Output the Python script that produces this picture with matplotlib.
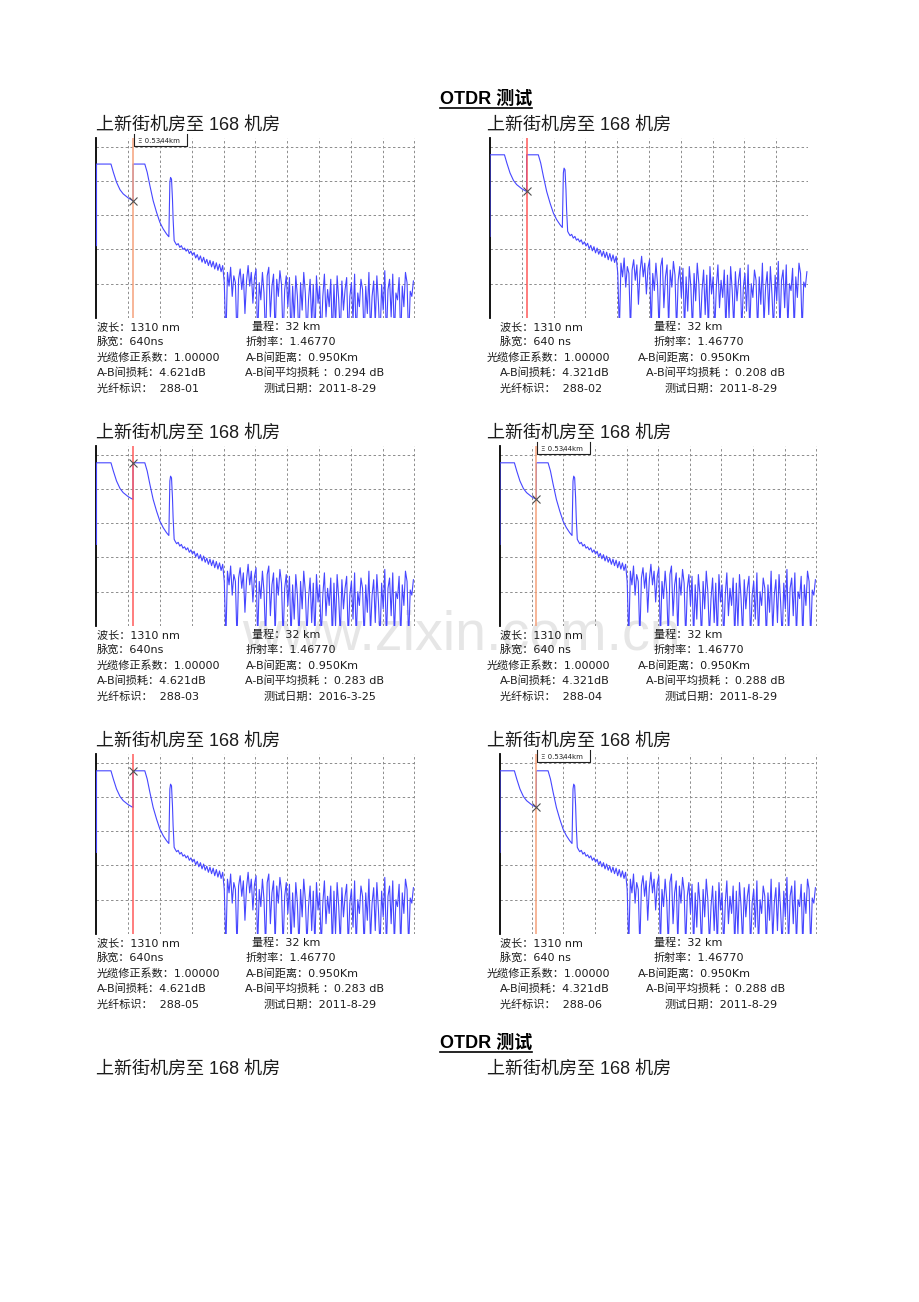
import numpy as np
import matplotlib
matplotlib.use("Agg")
import matplotlib.pyplot as plt
from matplotlib.transforms import blended_transform_factory

plt.rcParams["font.family"] = ["Liberation Sans", "Noto Sans CJK SC"]

# ---------------- data ----------------
heading = "OTDR 测试"
route = "上新街机房至 168 机房"

# launch pulse, first connector and reflective event
# x in grid divisions, y in level divisions (bottom of screen = 0)
launch_x = [0.0, 0.0, 0.455, 0.53, 0.63, 0.74, 0.84, 1.0, 1.15, 1.15, 1.52,
            1.595, 1.68, 1.783, 1.89, 1.994, 2.097, 2.204, 2.276, 2.308, 2.33,
            2.36, 2.39, 2.41, 2.443]
launch_y = [2.38, 4.76, 4.76, 4.52, 4.23, 4.01, 3.89, 3.77, 3.69, 4.76, 4.76,
            4.52, 4.13, 3.69, 3.35, 3.06, 2.87, 2.72, 2.64, 4.23, 4.37,
            4.32, 3.74, 3.16, 2.53]

# backscatter + noise floor, sampled every 0.05 div from 2.47
tail_start = 2.47
tail_step = 0.05
tail_y = [
    2.48, 2.40, 2.44, 2.33, 2.38, 2.27, 2.31, 2.22, 2.28, 2.15, 2.22, 2.10,
    2.18, 2.02, 2.12, 1.96, 2.08, 1.90, 2.04, 1.86, 1.98, 1.80, 1.95, 1.76,
    1.92, 1.70, 1.88, 1.66, 1.84, 1.62, 1.80,
    1.3, -0.4, 1.6, 1.2, 1.75, 0.9, 1.5, 1.3, -0.4, 1.4, 1.7, 1.1, 1.55, 0.4,
    1.35, 1.8, 1.2, 1.6, 0.7, 1.45,
    1.7, -0.4, 1.3, 0.8, 1.6, 1.0, -0.4, 1.5, 1.75, 0.3, 1.2, 1.55, -0.3, 1.4,
    0.9, 1.65, 1.25, -0.4, 1.1, 1.5,
    0.6, 1.45, -0.4, 1.2, 0.2, 1.5, 0.9, -0.4, 1.3, 0.5, 1.6, 1.0, -0.3, 0.8,
    1.4, 0.1, 1.25, -0.4, 1.5, 0.7,
    1.2, -0.4, 0.9, 1.55, 0.3, 1.1, 0.6, 1.4, -0.4, 1.25, 0.0, 1.5, 0.8, -0.3,
    1.35, 0.5, 1.1, 1.45, -0.4, 0.9,
    1.3, 0.2, 1.55, -0.4, 1.0, 0.6, 1.4, 1.1, -0.4, 1.2, 0.4, 1.6, -0.2, 0.9,
    1.35, 0.1, 1.5, 0.7, -0.4, 1.25,
    0.5, 1.65, -0.4, 1.1, 1.4, 0.3, 1.55, -0.3, 1.0, 0.8, 1.45, -0.4, 1.2, 0.6,
    1.6, 1.3, -0.4, 1.05, 0.9, 1.35,
]

cursor_label = "Ξ 0.5344km"

fiber_ids = ["288-01", "288-02", "288-03", "288-04", "288-05", "288-06"]
pulse_widths = ["640ns", "640 ns", "640ns", "640 ns", "640ns", "640 ns"]
ab_losses = ["4.621dB", "4.321dB", "4.621dB", "4.321dB", "4.621dB", "4.321dB"]
avg_losses = ["0.294 dB", "0.208 dB", "0.283 dB", "0.288 dB", "0.283 dB", "0.288 dB"]
test_dates = ["2011-8-29", "2011-8-29", "2016-3-25", "2011-8-29", "2011-8-29", "2011-8-29"]
wavelength = "1310 nm"
span = "32 km"
ior = "1.46770"
cable_factor = "1.00000"
ab_distance = "0.950Km"

# ---------------- layout (pixels) ----------------
W, H = 920, 1302
fig = plt.figure(figsize=(W / 100, H / 100), dpi=100)
fig.patch.set_facecolor("white")

TXT = "#1c1c1c"
ORANGE = "#f5a27c"
RED = "#ff5a5a"
TRACE = "#4646ff"
INFO_FONT = ["DejaVu Sans", "Noto Sans CJK SC"]


def fx(x):
    return x / W


def fy(y):
    return 1 - y / H


row_bottoms = [318, 626, 934]
panels = [
    dict(left=96.5, right=415, row=0, cur=ORANGE, mark=8, box=True, shift=0.27),
    dict(left=490, right=808.5, row=0, cur=RED, mark=8, box=False, shift=0.0),
    dict(left=96.5, right=415, row=1, cur=RED, mark=9, box=False, shift=0.0),
    dict(left=500, right=817, row=1, cur=ORANGE, mark=8, box=True, shift=0.0),
    dict(left=96.5, right=415, row=2, cur=RED, mark=9, box=False, shift=0.0),
    dict(left=500, right=817, row=2, cur=ORANGE, mark=8, box=True, shift=0.0),
]

tail_x = tail_start + tail_step * np.arange(len(tail_y))
trace_x = np.concatenate([launch_x, tail_x])
trace_y = np.concatenate([launch_y, tail_y])

# info text column offsets
left_a = [96.7] * 5
left_b = [252, 245.7, 246, 245, 264]
right_a = [500, 500, 486.7, 500, 500]
right_b = [654, 654, 638, 646, 665]
line_dy = [7.7, 22.7, 38.7, 54.3, 69.7]

for i, p in enumerate(panels):
    bottom = row_bottoms[p["row"]]
    top = bottom - 180
    ax = fig.add_axes([fx(p["left"]), fy(bottom),
                       fx(p["right"] - p["left"]), (bottom - top) / H])
    ax.set_facecolor("none")
    ax.set_xlim(0, 10.02)
    ax.set_ylim(p["shift"], 5.25 + p["shift"])

    for gx in range(1, 11):
        ax.axvline(gx, color="#8c8c8c", lw=0.7, ls=(0, (2.5, 2.5)), zorder=1)
    for gy in range(1, 6):
        ax.axhline(gy + p["shift"], color="#8c8c8c", lw=0.7, ls=(0, (2.5, 2.5)), zorder=1)

    ax.plot(trace_x, trace_y, color=TRACE, lw=0.8, zorder=3)
    cx = launch_x[p["mark"]]
    ax.axvline(cx, color=p["cur"], lw=1.1, zorder=4)
    ax.plot([cx], [launch_y[p["mark"]]], marker="x", ms=6, mew=0.8,
            color="#505050", zorder=5)

    if p["box"]:
        tr = blended_transform_factory(ax.transData, ax.transAxes)
        ax.plot([1.18, 1.18, 2.85, 2.85], [1.02, 0.955, 0.955, 1.02],
                color="#202020", lw=0.8, transform=tr, clip_on=False, zorder=6)
        ax.text(1.3, 0.985, cursor_label, transform=tr, fontsize=5,
                va="center", ha="left", color="#202020", family="DejaVu Sans")

    for s in ["top", "right", "bottom"]:
        ax.spines[s].set_visible(False)
    ax.spines["left"].set_color("black")
    ax.spines["left"].set_linewidth(1.3)
    ax.set_xticks([])
    ax.set_yticks([])

    # route title above the screen
    tx = 96 if p["left"] < 400 else 487
    fig.text(fx(tx), fy(top - 13), route, fontsize=13, va="center",
             ha="left", color=TXT)

    # measurement info
    if p["left"] < 400:
        xa, xb = left_a, left_b
    else:
        xa, xb = right_a, right_b
    col_a = ["波长：" + wavelength, "脉宽：" + pulse_widths[i],
             "光缆修正系数：" + cable_factor, "A-B间损耗：" + ab_losses[i],
             "光纤标识：  " + fiber_ids[i]]
    col_b = ["量程：" + span, "折射率：" + ior, "A-B间距离：" + ab_distance,
             "A-B间平均损耗 ：" + avg_losses[i], "测试日期：" + test_dates[i]]
    for k in range(5):
        y = bottom + line_dy[k] + 4
        fig.text(fx(xa[k]), fy(y), col_a[k], fontsize=8, va="baseline",
                 ha="left", color=TXT, family=INFO_FONT)
        fig.text(fx(xb[k]), fy(y), col_b[k], fontsize=8, va="baseline",
                 ha="left", color=TXT, family=INFO_FONT)

# page headings
for hy in [99, 1043]:
    fig.text(fx(486), fy(hy), heading, fontsize=13, fontweight="bold",
             ha="center", va="center", color="black")
    fig.add_artist(plt.Line2D([fx(440), fx(532)], [fy(hy + 9), fy(hy + 9)],
                              color="black", lw=1.2))

# route titles of the next page
fig.text(fx(96), fy(1069), route, fontsize=13, va="center", ha="left", color=TXT)
fig.text(fx(487), fy(1069), route, fontsize=13, va="center", ha="left", color=TXT)

# watermark
fig.text(fx(461), fy(635), "www.zixin.com.cn", fontsize=40, color="#e6e6e6",
         ha="center", va="center", zorder=-1)

fig.savefig("out.png", dpi=100, facecolor="white")
plt.close(fig)
